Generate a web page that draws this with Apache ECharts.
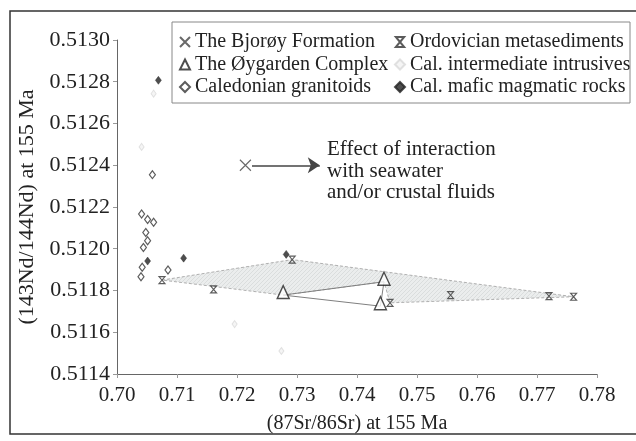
<!DOCTYPE html>
<html>
<head>
<meta charset="utf-8">
<script src="https://cdn.jsdelivr.net/npm/echarts@6/dist/echarts.min.js"></script>
<style>html,body{margin:0;padding:0;background:#fff;}#c{width:636px;height:441px;}</style>
</head>
<body>
<div id="c"></div>
<script>
// ---- data (x = 87Sr/86Sr, y = 143Nd/144Nd at 155 Ma) ----
const bjoroyX = [0.7214];
const bjoroyY = [0.51240];

const oygardenX = [0.7277, 0.7445, 0.7439];
const oygardenY = [0.511778, 0.511842, 0.511725];

const granitoidX = [0.7059, 0.7041, 0.7051, 0.7061, 0.7048, 0.7051, 0.7044, 0.7042, 0.7040, 0.7085];
const granitoidY = [0.512355, 0.512166, 0.512140, 0.512127, 0.512078, 0.512038, 0.512006, 0.511911, 0.511866, 0.511898];

const ordovicianX = [0.7075, 0.7161, 0.7292, 0.7455, 0.7556, 0.7720, 0.7761];
const ordovicianY = [0.511850, 0.511805, 0.511948, 0.511741, 0.511778, 0.511773, 0.511770];

const intermediateX = [0.7061, 0.7041, 0.7196, 0.7274];
const intermediateY = [0.512743, 0.512488, 0.511639, 0.511510];

const maficX = [0.7069, 0.7051, 0.7111, 0.7282];
const maficY = [0.512807, 0.511941, 0.511955, 0.511973];

// shaded field (vertices)
const zoneX = [0.7075, 0.7292, 0.7761, 0.7455, 0.7445, 0.7277];
const zoneY = [0.511850, 0.511948, 0.511770, 0.511741, 0.511842, 0.511778];

// arrow annotation (start, end)
const arrowX = [0.7225, 0.7338];
const arrowY = [0.51240, 0.51240];

const annotationLines = ['Effect of interaction', 'with seawater', 'and/or crustal fluids'];

const xMin = 0.70, xMax = 0.78, xStep = 0.01;
const yMin = 0.5114, yMax = 0.5130, yStep = 0.0002;

const pairs = (xs, ys) => xs.map((x, i) => [x, ys[i]]);

const FONT = '"Liberation Serif", "DejaVu Serif", serif';

// hatched fill pattern
const pat = document.createElement('canvas');
pat.width = 4; pat.height = 4;
(function () {
  const g = pat.getContext('2d');
  g.fillStyle = '#ebeded'; g.fillRect(0, 0, 4, 4);
  g.strokeStyle = '#dadddd'; g.lineWidth = 1;
  g.beginPath(); g.moveTo(0, 4); g.lineTo(4, 0); g.stroke();
})();

const chart = echarts.init(document.getElementById('c'), null, { renderer: 'canvas' });

const xPath = 'path://M0,0L10,10M10,0L0,10';
const hourglass = 'path://M0,0L10,0L0,12L10,12Z';

chart.setOption({
  backgroundColor: '#fff',
  animation: false,
  textStyle: { fontFamily: FONT },
  grid: { left: 117, right: 39, top: 40, bottom: 67 },
  xAxis: {
    type: 'value', min: xMin, max: xMax, interval: xStep,
    name: '(87Sr/86Sr) at 155 Ma', nameLocation: 'middle', nameGap: 40,
    nameTextStyle: { fontFamily: FONT, fontSize: 20, color: '#222' },
    axisLine: { show: true, lineStyle: { color: '#666', width: 1 } },
    axisTick: { show: true, length: 4, lineStyle: { color: '#999' } },
    axisLabel: { fontFamily: FONT, fontSize: 21, color: '#222', margin: 11,
      formatter: v => v.toFixed(2) },
    splitLine: { show: false }
  },
  yAxis: {
    type: 'value', min: yMin, max: yMax, interval: yStep,
    name: '(143Nd/144Nd) at 155 Ma', nameLocation: 'middle', nameGap: 78,
    nameTextStyle: { fontFamily: FONT, fontSize: 22, color: '#222' },
    axisLine: { show: true, lineStyle: { color: '#666', width: 1 } },
    axisTick: { show: true, length: 4, lineStyle: { color: '#999' } },
    axisLabel: { fontFamily: FONT, fontSize: 22, color: '#222', margin: 7,
      formatter: v => v.toFixed(4) },
    splitLine: { show: false }
  },
  legend: [
    {
      orient: 'vertical', left: 174, top: 27, itemGap: 2.5,
      itemWidth: 10, itemHeight: 10,
      textStyle: { fontFamily: FONT, fontSize: 20, color: '#222' },
      data: ['The Bjorøy Formation', 'The Øygarden Complex', 'Caledonian granitoids']
    },
    {
      orient: 'vertical', left: 389, top: 27, itemGap: 2.5,
      itemWidth: 10, itemHeight: 10,
      textStyle: { fontFamily: FONT, fontSize: 20, color: '#222' },
      data: ['Ordovician metasediments', 'Cal. intermediate intrusives', 'Cal. mafic magmatic rocks']
    }
  ],
  graphic: [
    { type: 'rect', shape: { x: 10, y: 11, width: 640, height: 423 },
      style: { fill: 'none', stroke: '#333', lineWidth: 1.5 }, silent: true },
    { type: 'rect', shape: { x: 172, y: 22, width: 458, height: 81 },
      style: { fill: 'none', stroke: '#888', lineWidth: 1 }, silent: true, z: 5 },
    { type: 'text', left: 327, top: 139, silent: true,
      style: { text: annotationLines.join('\n'), font: '21px ' + FONT, fill: '#222', lineHeight: 21.5 } }
  ],
  series: [
    {
      type: 'custom', name: 'field', silent: true, z: 1,
      data: pairs(zoneX, zoneY),
      renderItem: function (params, api) {
        if (params.dataIndex !== 0) return null;
        const pts = zoneX.map((x, i) => api.coord([x, zoneY[i]]));
        const tri = oygardenX.map((x, i) => api.coord([x, oygardenY[i]]));
        return {
          type: 'group',
          children: [
            { type: 'polygon', shape: { points: pts },
              style: { fill: { image: pat, repeat: 'repeat' }, stroke: '#b0b0b0', lineWidth: 1, lineDash: [3, 2] } },
            { type: 'polygon', shape: { points: tri },
              style: { fill: 'none', stroke: '#808080', lineWidth: 1 } }
          ]
        };
      }
    },
    {
      type: 'line', name: 'arrow', data: [], color: '#444', silent: true, z: 9,
      markLine: {
        silent: true, symbol: ['none', 'arrow'], symbolSize: 12,
        label: { show: false },
        itemStyle: { color: '#444' },
        lineStyle: { color: '#444', width: 1.6, type: 'solid' },
        data: [[{ coord: [arrowX[0], arrowY[0]] }, { coord: [arrowX[1], arrowY[1]] }]]
      }
    },
    {
      type: 'scatter', name: 'The Bjorøy Formation', z: 10,
      data: pairs(bjoroyX, bjoroyY),
      symbol: xPath, symbolSize: 11,
      itemStyle: { color: 'rgba(0,0,0,0)', borderColor: '#444', borderWidth: 1.1 }
    },
    {
      type: 'scatter', name: 'The Øygarden Complex', z: 10,
      data: pairs(oygardenX, oygardenY),
      symbol: 'triangle', symbolSize: [12, 13], symbolOffset: [0, -3],
      itemStyle: { color: '#fff', borderColor: '#222', borderWidth: 1.4 }
    },
    {
      type: 'scatter', name: 'Caledonian granitoids', z: 10,
      data: pairs(granitoidX, granitoidY),
      symbol: 'diamond', symbolSize: [6, 8],
      itemStyle: { color: '#fff', borderColor: '#333', borderWidth: 1.2 }
    },
    {
      type: 'scatter', name: 'Ordovician metasediments', z: 10,
      data: pairs(ordovicianX, ordovicianY),
      symbol: hourglass, symbolSize: [6, 7],
      itemStyle: { color: 'rgba(0,0,0,0)', borderColor: '#333', borderWidth: 1.1 }
    },
    {
      type: 'scatter', name: 'Cal. intermediate intrusives', z: 10,
      data: pairs(intermediateX, intermediateY),
      symbol: 'diamond', symbolSize: [5, 7],
      itemStyle: { color: '#f2f2f2', borderColor: '#dadada', borderWidth: 1 }
    },
    {
      type: 'scatter', name: 'Cal. mafic magmatic rocks', z: 10,
      data: pairs(maficX, maficY),
      symbol: 'diamond', symbolSize: [6, 8],
      itemStyle: { color: '#222', borderColor: '#222', borderWidth: 0.5 }
    }
  ]
});
</script>
</body>
</html>
